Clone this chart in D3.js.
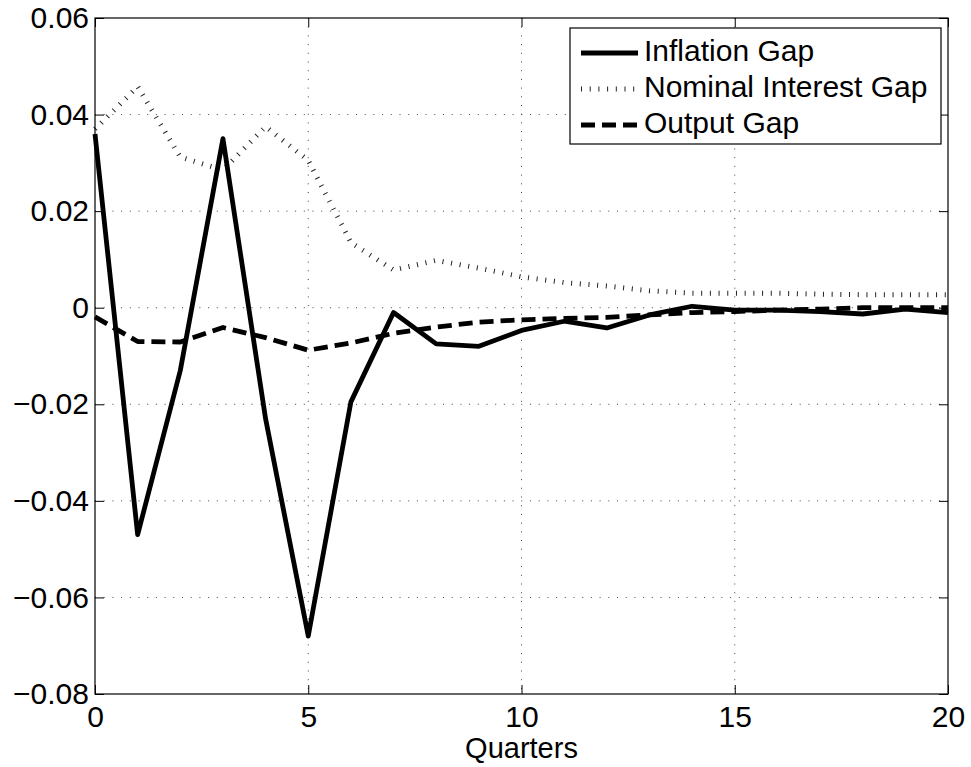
<!DOCTYPE html>
<html>
<head>
<meta charset="utf-8">
<script src="https://cdn.jsdelivr.net/npm/d3@7"></script>
<style>
  body { margin: 0; background: #fff; }
  svg { display: block; font-family: "Liberation Sans", Arial, Helvetica, sans-serif; }
</style>
</head>
<body>
<div id="chart"></div>
<script>
// Quarters after the shock
var quarters = d3.range(0, 21);

// Series values
var inflationGap = [0.036, -0.047, -0.013, 0.035, -0.023, -0.068, -0.0195, -0.001, -0.0075, -0.008,
                    -0.0047, -0.0028, -0.0042, -0.0015, 0.0003, -0.0005, -0.0005, -0.0008, -0.0013, -0.0003, -0.001];
var nominalGap   = [0.037, 0.0458, 0.0312, 0.0285, 0.0375, 0.0305, 0.0135, 0.0078, 0.0098, 0.0082,
                    0.0064, 0.0052, 0.0045, 0.0035, 0.003, 0.003, 0.003, 0.0028, 0.0027, 0.0027, 0.0027];
var outputGap    = [-0.0019, -0.007, -0.0071, -0.0041, -0.0062, -0.0088, -0.0073, -0.0053, -0.004, -0.003,
                    -0.0025, -0.0022, -0.002, -0.0015, -0.001, -0.0008, -0.0005, -0.0003, 0.0, 0.0, 0.0];

var xTicks = [0, 5, 10, 15, 20];
var yTicks = [-0.08, -0.06, -0.04, -0.02, 0, 0.02, 0.04, 0.06];

var seriesNames = ["Inflation Gap", "Nominal Interest Gap", "Output Gap"];

var width = 971, height = 767;
var margin = {top: 18, right: 23, bottom: 73, left: 95};
var iw = width - margin.left - margin.right,
    ih = height - margin.top - margin.bottom;

var svg = d3.select("#chart").append("svg")
  .attr("width", width).attr("height", height);

var g = svg.append("g").attr("transform", "translate(" + margin.left + "," + margin.top + ")");

var x = d3.scaleLinear().domain([0, 20]).range([0, iw]);
var y = d3.scaleLinear().domain([-0.08, 0.06]).range([ih, 0]);

// dotted grid
g.append("g").selectAll("line.gx").data(xTicks.slice(1, -1)).enter().append("line")
  .attr("x1", function(d) { return x(d); }).attr("x2", function(d) { return x(d); })
  .attr("y1", 0).attr("y2", ih)
  .attr("stroke", "#444").attr("stroke-width", 1).attr("stroke-dasharray", "1,7.7");
g.append("g").selectAll("line.gy").data(yTicks.slice(1, -1)).enter().append("line")
  .attr("x1", 0).attr("x2", iw)
  .attr("y1", function(d) { return y(d); }).attr("y2", function(d) { return y(d); })
  .attr("stroke", "#444").attr("stroke-width", 1).attr("stroke-dasharray", "1,7.7");

// series lines
var line = d3.line().x(function(d, i) { return x(quarters[i]); }).y(function(d) { return y(d); });

var styles = [
  {data: inflationGap, width: 4.8, dash: null, color: "#000"},
  {data: nominalGap, width: 5, dash: "1,7.7", color: "#222"},
  {data: outputGap, width: 4.8, dash: "14,7", color: "#000"}
];

var plot = g.append("g");
[1, 2, 0].forEach(function(k) {
  var s = styles[k];
  plot.append("path").datum(s.data)
    .attr("d", line)
    .attr("fill", "none")
    .attr("stroke", s.color)
    .attr("stroke-width", s.width)
    .attr("stroke-linejoin", "round")
    .attr("stroke-dasharray", s.dash);
});

// axes with ticks inside, on all four sides
var fmt = function(d) { return d === 0 ? "0" : d3.format(".2f")(d).replace("-", "\u2212"); };

var xAxis = d3.axisBottom(x).tickValues(xTicks).tickSizeInner(-9).tickSizeOuter(0).tickPadding(12);
var yAxis = d3.axisLeft(y).tickValues(yTicks).tickSizeInner(-9).tickSizeOuter(0).tickPadding(6).tickFormat(fmt);

var gx = g.append("g").attr("transform", "translate(0," + ih + ")").call(xAxis);
var gy = g.append("g").call(yAxis);
g.append("g").call(d3.axisTop(x).tickValues(xTicks).tickSizeInner(-9).tickSizeOuter(0).tickFormat(""));
g.append("g").attr("transform", "translate(" + iw + ",0)")
  .call(d3.axisRight(y).tickValues(yTicks).tickSizeInner(-9).tickSizeOuter(0).tickFormat(""));

g.selectAll(".domain").remove();
g.selectAll(".tick line").attr("stroke", "#000").attr("stroke-width", 1);
gx.attr("font-size", 30).attr("font-family", "Liberation Sans, Arial, sans-serif");
gy.attr("font-size", 30).attr("font-family", "Liberation Sans, Arial, sans-serif");
gx.selectAll("text").attr("fill", "#000");
gy.selectAll("text").attr("fill", "#000");

// axis box
g.append("rect").attr("width", iw).attr("height", ih)
  .attr("fill", "none").attr("stroke", "#000").attr("stroke-width", 1.2);

// x label
svg.append("text")
  .attr("x", margin.left + iw / 2).attr("y", 758)
  .attr("text-anchor", "middle").attr("font-size", 29)
  .text("Quarters");

// legend
var lg = svg.append("g").attr("transform", "translate(570,28)");
lg.append("rect").attr("width", 371).attr("height", 116)
  .attr("fill", "#fff").attr("stroke", "#000").attr("stroke-width", 1.2);

seriesNames.forEach(function(name, i) {
  var s = styles[i];
  var cy = 25 + i * 36;
  lg.append("line")
    .attr("x1", 11).attr("x2", 68).attr("y1", cy).attr("y2", cy)
    .attr("stroke", s.color)
    .attr("stroke-width", s.width)
    .attr("stroke-dasharray", s.dash);
  lg.append("text")
    .attr("x", 74).attr("y", cy + 8)
    .attr("font-size", 30)
    .text(name);
});
</script>
</body>
</html>
